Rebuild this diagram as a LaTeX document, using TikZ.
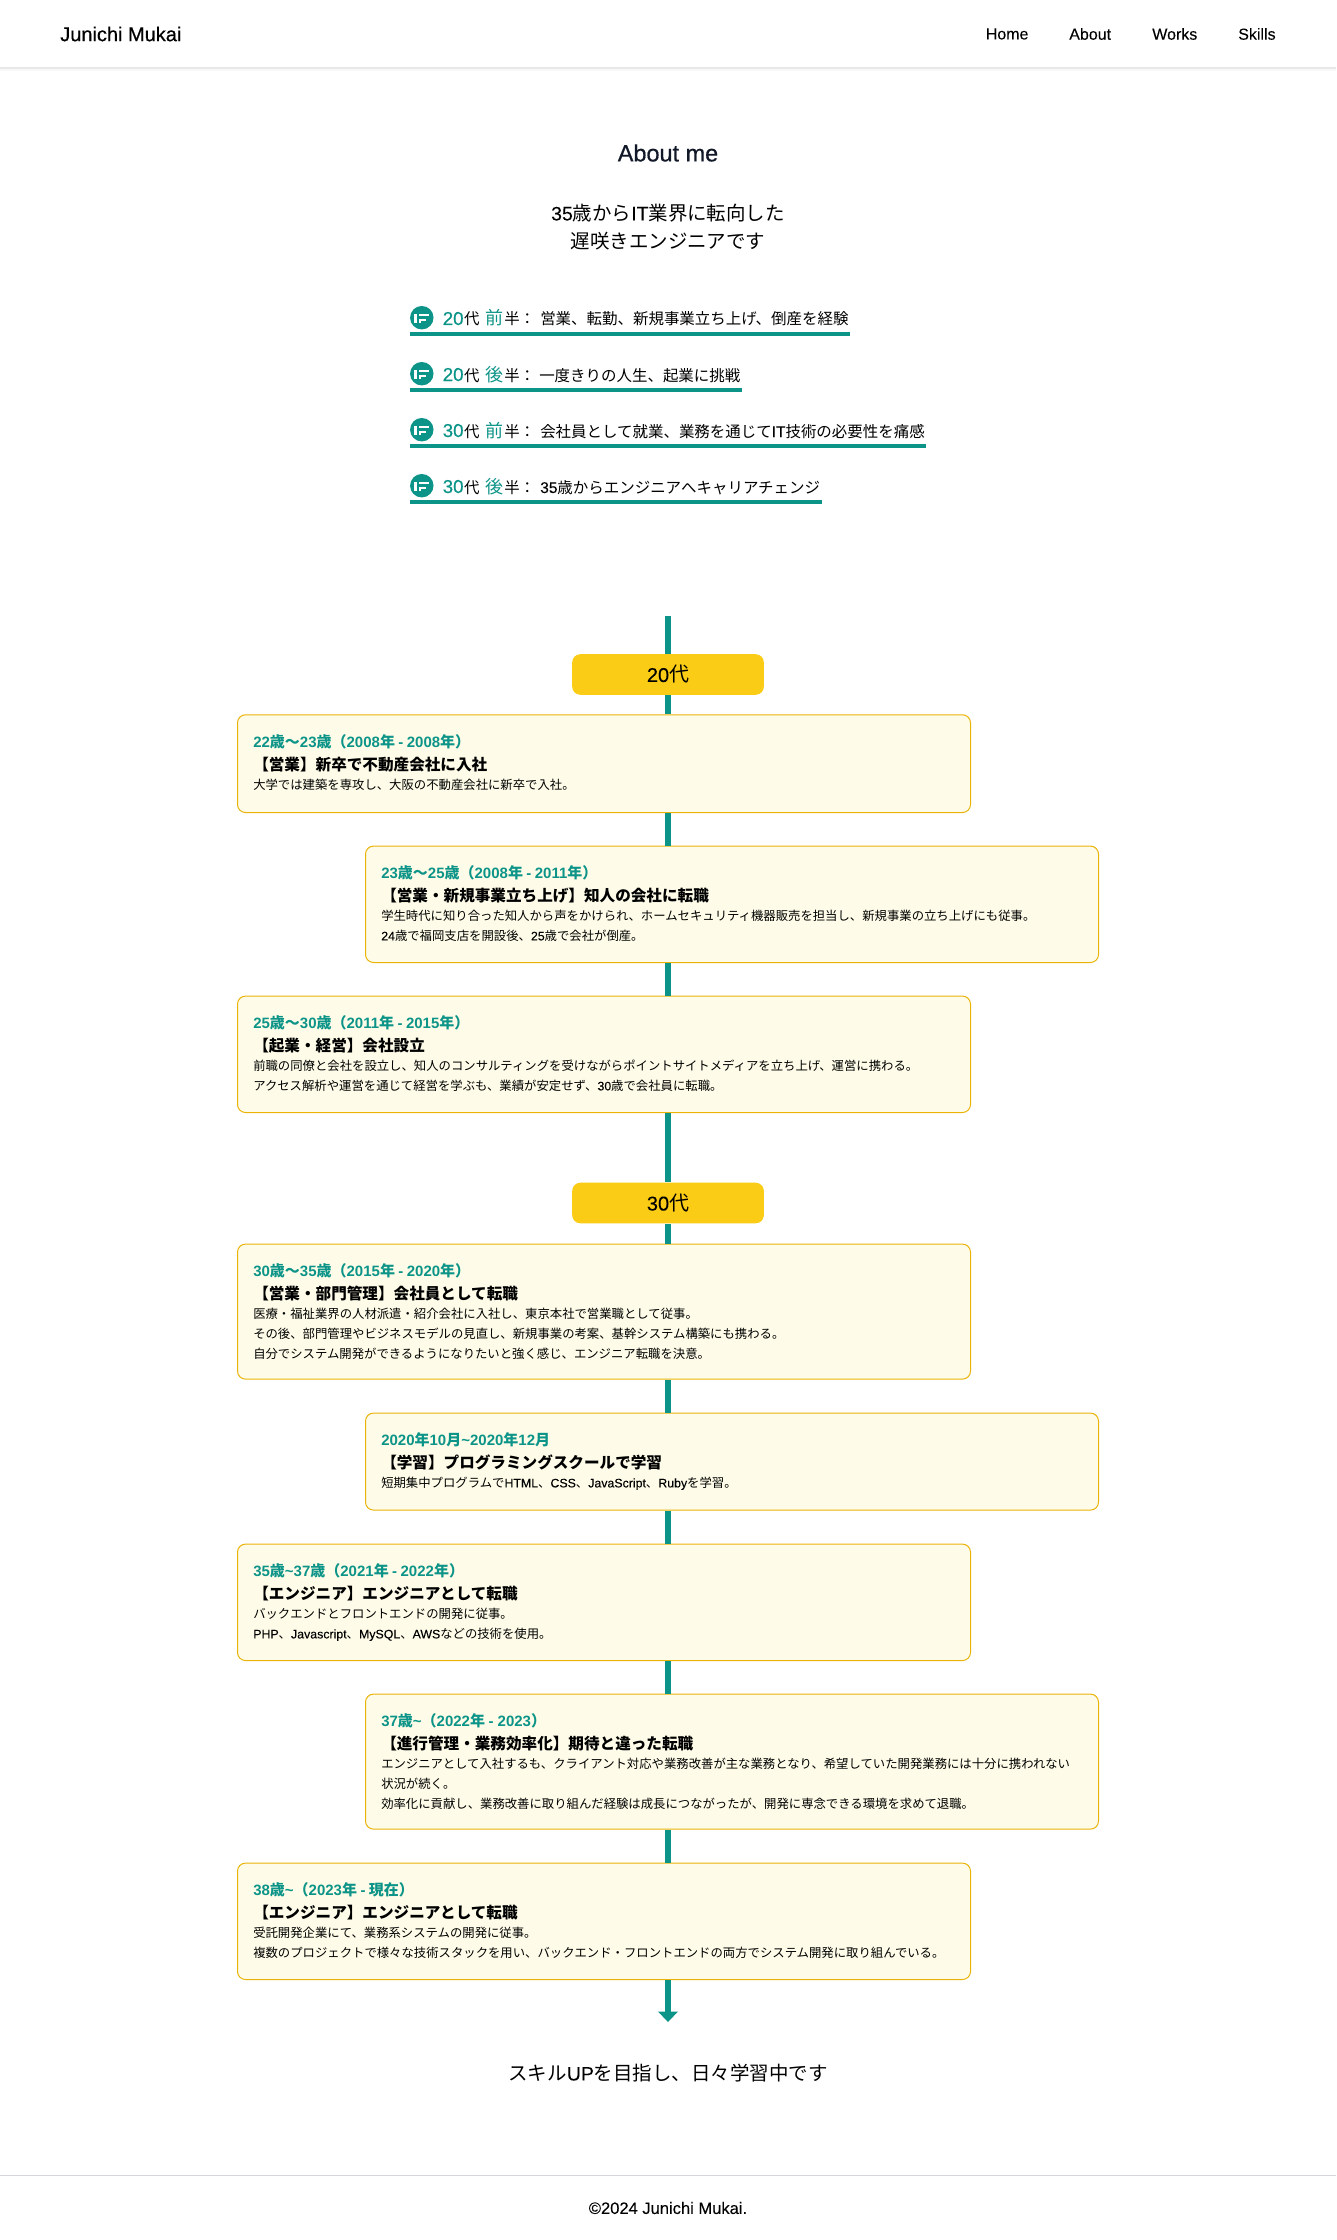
\documentclass[tikz,border=0pt]{standalone}
\usepackage{fontspec}
\usetikzlibrary{positioning}
\setmainfont{Noto Sans CJK JP}
\newfontfamily\lat[UprightFeatures={FakeBold=0.03}]{Liberation Sans}
\newfontfamily\latheavy[UprightFeatures={FakeBold=0.6}]{Liberation Sans}
\newcommand{\en}[1]{{\lat #1}}
\begin{document}
\begin{tikzpicture}[
    x=0.75pt,
    y=-0.75pt,
    box frame/.style={draw=boxEdge, fill=boxFill, line width=0.75pt, rounded corners=6pt, inner sep=0pt, anchor=north west, minimum width=549.75pt},
    year badge/.style={fill=badgeFill, rounded corners=6pt, inner sep=0pt, minimum width=143.7pt, minimum height=30.4pt, font=\fontsize{15}{18}\selectfont},
    date label/.style={font=\fontsize{11.25}{14}\selectfont\bfseries, text=tealMark, inner sep=0pt, anchor=west},
    title label/.style={font=\fontsize{11.7}{14}\selectfont\bfseries, inner sep=0pt, anchor=west},
    body label/.style={font=\fontsize{9.27}{15}\selectfont, inner sep=0pt, anchor=north west, align=left},
    nav label/.style={font=\fontsize{12}{14}\selectfont\lat, inner sep=0pt},
    lead label/.style={font=\fontsize{11.6}{14}\selectfont, inner sep=0pt, anchor=base west},
    era label/.style={font=\fontsize{14}{16}\selectfont, inner sep=0pt, anchor=base west},
    time line/.style={draw=tealMark, line width=3.9pt}
]

\definecolor{tealMark}{RGB}{13,148,136}
\definecolor{badgeFill}{RGB}{250,204,21}
\definecolor{boxFill}{RGB}{254,252,232}
\definecolor{boxEdge}{RGB}{234,179,8}
\definecolor{headInk}{RGB}{17,24,39}
\definecolor{ruleGrey}{RGB}{212,214,218}

% Career card with its top left corner at (#2,#3).
\newcommand{\careerBox}[7]{%
  \node[box frame, minimum height=#4*0.75pt-0.75pt] (#1) at (#2,#3) {};
  \node[date label] (#1date) at (#2+16,#3+27.5) {#5};
  \node[title label] (#1title) at (#2+16,#3+50) {#6};
  \node[body label] (#1body) at (#2+16,#3+60.5) {\strut #7};
}

% One row of the summary list, baseline at #2.
\newcommand{\eraRow}[7]{%
  \fill[tealMark] (421.8,#2-7.3) circle (8.8pt);
  \fill[white] (414.3,#2-11) rectangle (417,#2-2);
  \fill[white] (418.8,#2-11) rectangle (429.3,#2-8.8);
  \fill[white] (418.8,#2-6.2) rectangle (426,#2-4);
  \fill[white] (418.8,#2-6.2) rectangle (421.2,#2-2);
  \draw[tealMark, line width=3pt] (410,#2+8.7) -- (#3,#2+8.7);
  \node[era label, text=tealMark] (#1a) at (442.5,#2) {\latheavy #4};
  \node[lead label, right=0pt of #1a.base east, anchor=base west] (#1b) {代};
  \node[era label, text=tealMark, font=\fontsize{13.5}{16}\selectfont] (#1c) at (485,#2) {#5};
  \node[lead label] (#1d) at (504,#2) {半：};
  \node[lead label] (#1e) at (#6,#2) {#7};
}

% Header and footer.
\useasboundingbox (0,0) rectangle (1336,2240);
\fill[black!3] (0,68) rectangle (1336,71);
\fill[black!9] (0,67.5) rectangle (1336,69);
\draw[ruleGrey, line width=0.75pt] (0,2175) -- (1336,2175);
\node[font=\fontsize{15}{18}\selectfont\latheavy, inner sep=0pt, anchor=west] (brand) at (60,34) {Junichi Mukai};
\node[nav label, anchor=west] (navHome) at (985.5,34) {Home};
\node[nav label, anchor=west] (navAbout) at (1069,34) {About};
\node[nav label, anchor=west] (navWorks) at (1152,34) {Works};
\node[nav label, anchor=west] (navSkills) at (1238,34) {Skills};
\node[font=\fontsize{12.4}{15}\selectfont\lat, inner sep=0pt] (copyright) at (668,2208) {©2024 Junichi Mukai.};

% Heading.
\node[font=\fontsize{17.6}{22}\selectfont\latheavy, text=headInk, inner sep=0pt] (aboutHead) at (668,153) {About me};
\node[font=\fontsize{14.6}{21}\selectfont, inner sep=0pt, align=center] (aboutLead) at (668,227) {\en{35}歳から\en{IT}業界に転向した\\遅咲きエンジニアです};

% Summary rows.
\eraRow{rowA}{325}{850}{20}{前}{540}{営業、転勤、新規事業立ち上げ、倒産を経験}
\eraRow{rowB}{381}{742}{20}{後}{539}{一度きりの人生、起業に挑戦}
\eraRow{rowC}{437}{926}{30}{前}{540}{会社員として就業、業務を通じて\en{IT}技術の必要性を痛感}
\eraRow{rowD}{493}{822}{30}{後}{540}{\en{35}歳からエンジニアへキャリアチェンジ}

% Career cards, top to bottom.
\careerBox{cardA}{237}{714.3}{98.7}{\en{22}歳〜\en{23}歳（\en{2008}年 \en{-} \en{2008}年）}{【営業】新卒で不動産会社に入社}{大学では建築を専攻し、大阪の不動産会社に新卒で入社。}
\careerBox{cardB}{365}{845.6}{117.4}{\en{23}歳〜\en{25}歳（\en{2008}年 \en{-} \en{2011}年）}{【営業・新規事業立ち上げ】知人の会社に転職}{学生時代に知り合った知人から声をかけられ、ホームセキュリティ機器販売を担当し、新規事業の立ち上げにも従事。\\\en{24}歳で福岡支店を開設後、\en{25}歳で会社が倒産。}
\careerBox{cardC}{237}{995.6}{117.4}{\en{25}歳〜\en{30}歳（\en{2011}年 \en{-} \en{2015}年）}{【起業・経営】会社設立}{前職の同僚と会社を設立し、知人のコンサルティングを受けながらポイントサイトメディアを立ち上げ、運営に携わる。\\アクセス解析や運営を通じて経営を学ぶも、業績が安定せず、\en{30}歳で会社員に転職。}
\careerBox{cardD}{237}{1243.6}{136}{\en{30}歳〜\en{35}歳（\en{2015}年 \en{-} \en{2020}年）}{【営業・部門管理】会社員として転職}{医療・福祉業界の人材派遣・紹介会社に入社し、東京本社で営業職として従事。\\その後、部門管理やビジネスモデルの見直し、新規事業の考案、基幹システム構築にも携わる。\\自分でシステム開発ができるようになりたいと強く感じ、エンジニア転職を決意。}
\careerBox{cardE}{365}{1412.6}{98}{\en{2020}年\en{10}月\en{\textasciitilde 2020}年\en{12}月}{【学習】プログラミングスクールで学習}{短期集中プログラムで\en{HTML}、\en{CSS}、\en{JavaScript}、\en{Ruby}を学習。}
\careerBox{cardF}{237}{1543.6}{117.4}{\en{35}歳\en{\textasciitilde 37}歳（\en{2021}年 \en{-} \en{2022}年）}{【エンジニア】エンジニアとして転職}{バックエンドとフロントエンドの開発に従事。\\\en{PHP}、\en{Javascript}、\en{MySQL}、\en{AWS}などの技術を使用。}
\careerBox{cardG}{365}{1693.6}{136}{\en{37}歳\en{\textasciitilde}（\en{2022}年 \en{- 2023}）}{【進行管理・業務効率化】期待と違った転職}{エンジニアとして入社するも、クライアント対応や業務改善が主な業務となり、希望していた開発業務には十分に携われない\\状況が続く。\\効率化に貢献し、業務改善に取り組んだ経験は成長につながったが、開発に専念できる環境を求めて退職。}
\careerBox{cardH}{237}{1862.6}{117.4}{\en{38}歳\en{\textasciitilde}（\en{2023}年 \en{-} 現在）}{【エンジニア】エンジニアとして転職}{受託開発企業にて、業務系システムの開発に従事。\\複数のプロジェクトで様々な技術スタックを用い、バックエンド・フロントエンドの両方でシステム開発に取り組んでいる。}

% Year badges.
\node[year badge] (badgeTwenty) at (668,674.5) {\en{20}代};
\node[year badge] (badgeThirty) at (668,1203) {\en{30}代};

% Timeline, centred on x=668.
\coordinate (lineTop) at (668,616);
\coordinate (lineEnd) at (668,2012);
\draw[time line] (lineTop) -- (badgeTwenty.north);
\draw[time line] (badgeTwenty.south) -- (cardA.north -| lineTop);
\draw[time line] (cardA.south -| lineTop) -- (cardB.north -| lineTop);
\draw[time line] (cardB.south -| lineTop) -- (cardC.north -| lineTop);
\draw[time line] (cardC.south -| lineTop) -- (badgeThirty.north);
\draw[time line] (badgeThirty.south) -- (cardD.north -| lineTop);
\draw[time line] (cardD.south -| lineTop) -- (cardE.north -| lineTop);
\draw[time line] (cardE.south -| lineTop) -- (cardF.north -| lineTop);
\draw[time line] (cardF.south -| lineTop) -- (cardG.north -| lineTop);
\draw[time line] (cardG.south -| lineTop) -- (cardH.north -| lineTop);
\draw[time line] (cardH.south -| lineTop) -- (lineEnd);
\fill[tealMark] (658,2011.5) -- (678,2011.5) -- (668,2022) -- cycle;

\node[font=\fontsize{14.6}{18}\selectfont, inner sep=0pt] (closing) at (668,2073) {スキル\en{UP}を目指し、日々学習中です};

\end{tikzpicture}
\end{document}
